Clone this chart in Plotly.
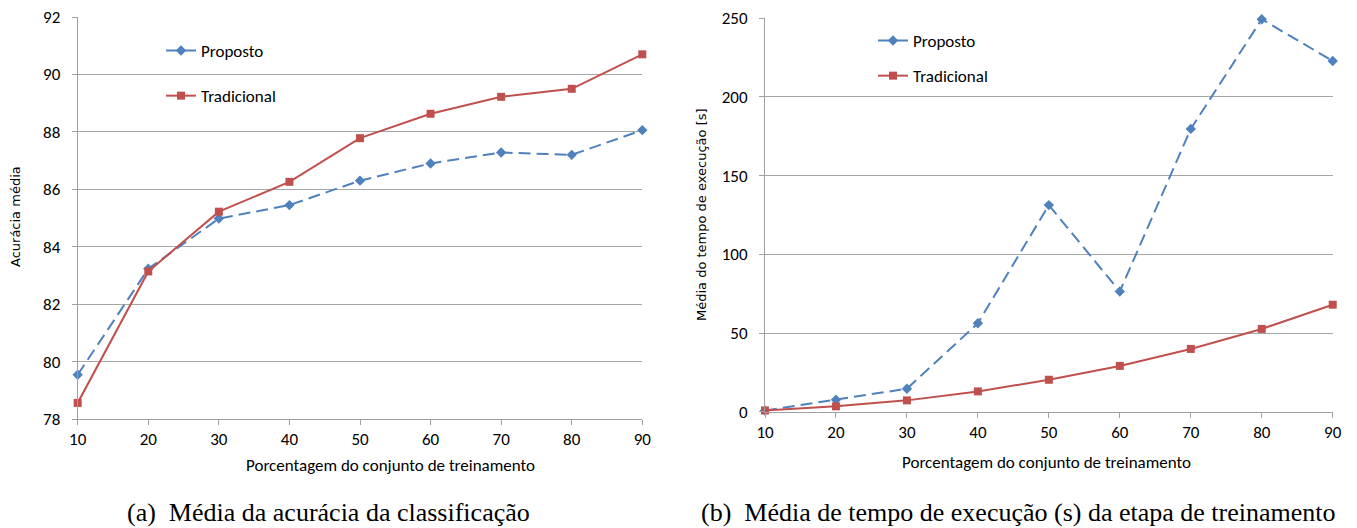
import plotly.graph_objects as go

W, H = 1357, 528

x_pct = [10, 20, 30, 40, 50, 60, 70, 80, 90]

acc_proposto = [79.54, 83.23, 84.98, 85.45, 86.30, 86.90, 87.28, 87.20, 88.06]
acc_tradicional = [78.56, 83.14, 85.22, 86.26, 87.78, 88.63, 89.22, 89.50, 90.70]

time_proposto = [0.8, 7.6, 14.6, 56.2, 131.3, 76.4, 179.7, 249.4, 222.9]
time_tradicional = [0.8, 3.4, 7.2, 12.9, 20.3, 29.1, 39.9, 52.6, 68.0]

BLUE = "#4F81BD"
RED = "#C0504D"
GRID = "#A6A6A6"
AXIS = "#A0A0A0"
SANS = "Liberation Sans Narrow, Carlito, Lato, sans-serif"
YT_FONT = "DejaVu Sans, Verdana, sans-serif"
SERIF = "Liberation Serif, Times New Roman, serif"


def px_x(p):
    return p / W


def px_y(p):
    return 1 - p / H


fig = go.Figure()

dash = "12px,6px"

fig.add_trace(go.Scatter(
    x=x_pct, y=acc_proposto, name="Proposto", mode="lines+markers",
    line=dict(color=BLUE, width=2, dash=dash),
    marker=dict(symbol="diamond", size=8, color=BLUE),
    xaxis="x", yaxis="y", legend="legend", legendgroup="a1", cliponaxis=False))
fig.add_trace(go.Scatter(
    x=x_pct, y=acc_tradicional, name="Tradicional", mode="lines+markers",
    line=dict(color=RED, width=2),
    marker=dict(symbol="square", size=8, color=RED),
    xaxis="x", yaxis="y", legend="legend", legendgroup="a2", cliponaxis=False))
fig.add_trace(go.Scatter(
    x=x_pct, y=time_proposto, name="Proposto", mode="lines+markers",
    line=dict(color=BLUE, width=2, dash=dash),
    marker=dict(symbol="diamond", size=8, color=BLUE),
    xaxis="x2", yaxis="y2", legend="legend2", legendgroup="b1", cliponaxis=False))
fig.add_trace(go.Scatter(
    x=x_pct, y=time_tradicional, name="Tradicional", mode="lines+markers",
    line=dict(color=RED, width=2),
    marker=dict(symbol="square", size=8, color=RED),
    xaxis="x2", yaxis="y2", legend="legend2", legendgroup="b2", cliponaxis=False))

axis_common = dict(
    showline=True, linecolor=AXIS, linewidth=1,
    ticks="outside", ticklen=5, tickcolor=AXIS, tickwidth=1,
    tickfont=dict(family=SANS, size=17, color="#000000"),
    zeroline=False, automargin=False,
)

fig.update_layout(
    width=W, height=H,
    margin=dict(l=0, r=0, t=0, b=0, pad=0, autoexpand=False),
    paper_bgcolor="white", plot_bgcolor="white",
    xaxis=dict(domain=[px_x(77.7), px_x(642.3)], range=[10, 90], dtick=10,
               tick0=10, anchor="y", showgrid=False, **axis_common),
    yaxis=dict(domain=[px_y(419), px_y(17)], range=[78, 92], dtick=2,
               anchor="x", showgrid=True, gridcolor=GRID, gridwidth=1,
               ticklabelstandoff=8, **axis_common),
    xaxis2=dict(domain=[px_x(765), px_x(1332.7)], range=[10, 90], dtick=10,
                tick0=10, anchor="y2", showgrid=False, **axis_common),
    yaxis2=dict(domain=[px_y(411.7), px_y(18.3)], range=[0, 250], dtick=50,
                anchor="x2", showgrid=True, gridcolor=GRID, gridwidth=1,
                ticklabelstandoff=8, **axis_common),
    legend=dict(x=px_x(161), y=px_y(33), xanchor="left", yanchor="top",
                bgcolor="rgba(0,0,0,0)", itemwidth=30, tracegroupgap=20,
                font=dict(family=SANS, size=17, color="#000000")),
    legend2=dict(x=px_x(873), y=px_y(23), xanchor="left", yanchor="top",
                 bgcolor="rgba(0,0,0,0)", itemwidth=30, tracegroupgap=10,
                 font=dict(family=SANS, size=17, color="#000000")),
    showlegend=True,
)

annotations = [
    dict(text="Porcentagem do conjunto de treinamento", x=px_x(390), y=px_y(465),
         font=dict(family=SANS, size=17, color="#000000")),
    dict(text="Porcentagem do conjunto de treinamento", x=px_x(1046), y=px_y(462),
         font=dict(family=SANS, size=17, color="#000000")),
    dict(text="Acurácia média", x=px_x(15), y=px_y(217), textangle=-90,
         font=dict(family=YT_FONT, size=13, color="#000000")),
    dict(text="Média do tempo de execução [s]", x=px_x(701), y=px_y(215), textangle=-90,
         font=dict(family=YT_FONT, size=13, color="#000000")),
    dict(text="(a)\u2002Média da acurácia da classificação", x=px_x(328), y=px_y(512),
         font=dict(family=SERIF, size=26, color="#000000")),
    dict(text="(b)\u2002Média de tempo de execução (s) da etapa de treinamento",
         x=px_x(1018), y=px_y(512),
         font=dict(family=SERIF, size=26, color="#000000")),
]
for a in annotations:
    a.update(xref="paper", yref="paper", showarrow=False, xanchor="center", yanchor="middle")
fig.update_layout(annotations=annotations)

fig.write_html(
    "out.html",
    config={"displayModeBar": False},
    post_script="document.body.style.margin='0px';document.body.style.overflow='hidden';",
)
